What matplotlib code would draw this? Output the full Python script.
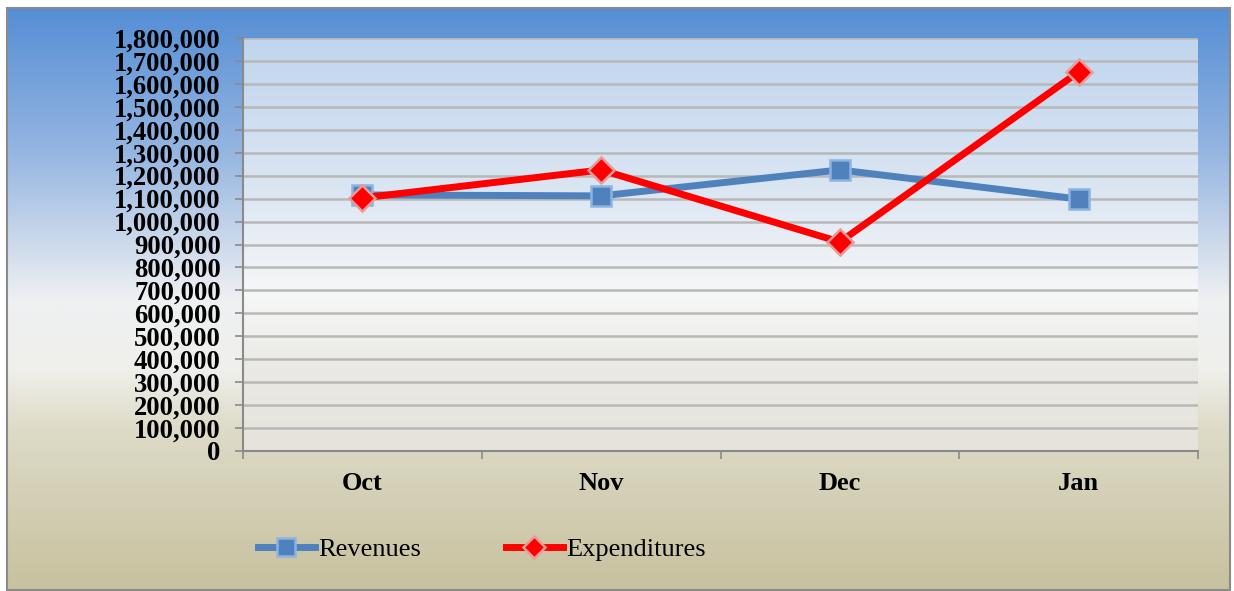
"""Revenues vs expenditures by month, line chart with gradient backgrounds."""

import matplotlib

matplotlib.use("Agg")
import matplotlib.pyplot as plt
import numpy as np
from matplotlib.patches import Rectangle
from matplotlib.ticker import FuncFormatter, MultipleLocator

months = ["Oct", "Nov", "Dec", "Jan"]
revenues = [1116000, 1112000, 1225000, 1098000]
expenditures = [1103000, 1225000, 911000, 1652000]

W, H = 1234, 591


def vertical_gradient(stops, n=600):
    """stops: list of (position 0..1 from top, (r, g, b))"""
    pos = np.array([s[0] for s in stops])
    cols = np.array([s[1] for s in stops], dtype=float) / 255.0
    t = np.linspace(0, 1, n)
    img = np.stack([np.interp(t, pos, cols[:, i]) for i in range(3)], axis=1)
    return img[:, None, :]


fig = plt.figure(figsize=(W / 100, H / 100), dpi=100)
plt.rcParams["font.family"] = ["Liberation Serif", "DejaVu Serif"]

# outer chart background
bg = fig.add_axes([0, 0, 1, 1], zorder=0)
bg.axis("off")
outer = vertical_gradient(
    [
        (0.0, (85, 142, 213)),
        (0.25, (150, 182, 225)),
        (0.5, (238, 240, 242)),
        (0.62, (240, 240, 236)),
        (0.72, (222, 219, 200)),
        (1.0, (199, 193, 158)),
    ]
)
bg.imshow(outer, extent=[7, 1230, 590, 8], aspect="auto", interpolation="bilinear")
bg.add_patch(
    Rectangle((7, 8), 1223, 582, fill=False, edgecolor="#8a8a8a", linewidth=1.5)
)
bg.set_xlim(0, W)
bg.set_ylim(H, 0)

ax = fig.add_axes(
    [243 / W, 1 - 451 / H, (1198 - 243) / W, (451 - 38) / H], zorder=1
)
ax.set_facecolor("none")
inner = vertical_gradient(
    [
        (0.0, (192, 213, 238)),
        (0.35, (218, 229, 242)),
        (0.62, (246, 247, 247)),
        (0.8, (234, 233, 227)),
        (1.0, (229, 227, 219)),
    ]
)
ax.imshow(
    inner,
    extent=[0, 1, 0, 1],
    transform=ax.transAxes,
    aspect="auto",
    interpolation="bilinear",
    zorder=0,
)

x = np.arange(len(months))
ax.plot(
    x,
    revenues,
    color="#4F81BD",
    linewidth=5,
    marker="s",
    markersize=15,
    markerfacecolor="#4F81BD",
    markeredgecolor="#8DB3E2",
    markeredgewidth=1.8,
    label="Revenues",
    zorder=3,
)
ax.plot(
    x,
    expenditures,
    color="#FF0000",
    linewidth=5,
    marker="D",
    markersize=13,
    markerfacecolor="#FF0000",
    markeredgecolor="#E89A9A",
    markeredgewidth=1.8,
    label="Expenditures",
    zorder=4,
)

ax.set_xlim(-0.5, len(months) - 0.5)
ax.set_ylim(0, 1800000)
ax.yaxis.set_major_locator(MultipleLocator(100000))
ax.yaxis.set_major_formatter(FuncFormatter(lambda v, _: f"{int(v):,}"))
ax.grid(axis="y", color="#b8b8b8", linewidth=1.8, zorder=1)
ax.set_axisbelow(True)

ax.set_xticks(x)
ax.set_xticklabels(months)
ax.set_xticks(np.arange(-0.5, len(months)), minor=True)
ax.tick_params(axis="x", which="major", length=0, pad=15, labelsize=19)
ax.tick_params(axis="x", which="minor", length=6, width=1.2, color="#8a8a8a")
ax.tick_params(axis="y", length=6, width=1.2, color="#8a8a8a", pad=10, labelsize=19.2)
for lbl in ax.get_xticklabels() + ax.get_yticklabels():
    lbl.set_fontweight("bold")
    lbl.set_color("black")

for side in ("top", "right"):
    ax.spines[side].set_visible(False)
for side in ("left", "bottom"):
    ax.spines[side].set_color("#8a8a8a")
    ax.spines[side].set_linewidth(1.5)

fig.legend(
    loc="center left",
    bbox_to_anchor=(258 / W, 1 - 549 / H),
    ncol=2,
    frameon=False,
    fontsize=19,
    borderpad=0,
    borderaxespad=0,
    handlelength=2.15,
    handletextpad=0.15,
    columnspacing=3.2,
    markerscale=0.85,
)

fig.savefig("out.png", dpi=100)
plt.close(fig)
